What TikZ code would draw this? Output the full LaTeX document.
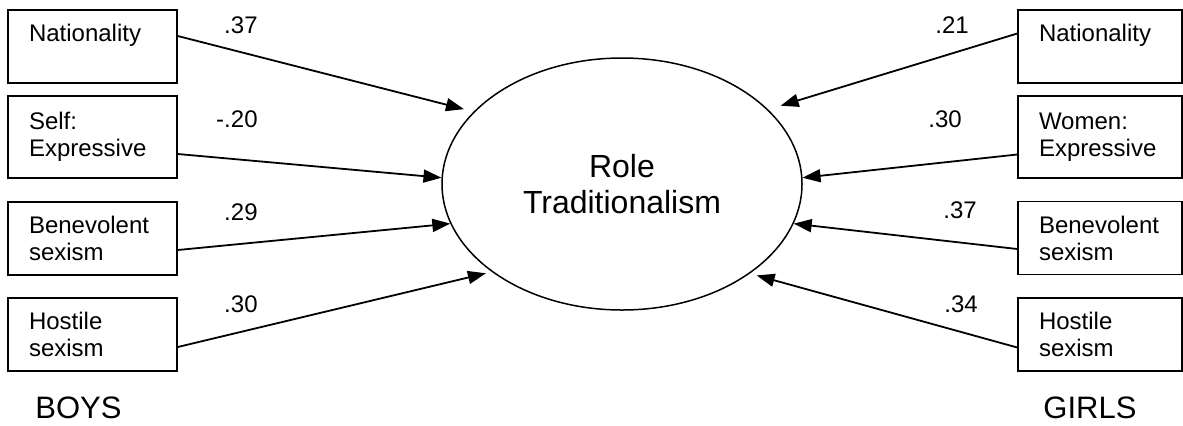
\documentclass[tikz,border=0pt]{standalone}
\usepackage{fontspec}
\setmainfont{Liberation Sans}
\usetikzlibrary{shapes.geometric}
\usetikzlibrary{arrows.meta}

\begin{document}
\begin{tikzpicture}[x=0.5pt,y=-0.5pt,line cap=round,>={Triangle[length=9pt,width=6.5pt]},
        var/.style={draw,line width=0.75pt,minimum width=84.5pt,minimum height=36.5pt,text width=63.5pt,inner xsep=10.5pt,align=left,font=\fontsize{12}{13.5}\selectfont},
        effect/.style={->,line width=0.9pt},
        coef/.style={inner sep=0pt,font=\fontsize{12}{13.5}\selectfont},
        group/.style={inner sep=0pt,anchor=base west,font=\fontsize{15.5}{18}\selectfont}]
        \useasboundingbox (0,0) rectangle (1183,425);
        % latent variable
        \node[draw,ellipse,line width=0.75pt,minimum width=180pt,minimum height=126pt,align=center,font=\fontsize{16}{18}\selectfont] (role) at (622,184) {Role\\Traditionalism};
        % boys
        \node[var] (bnat) at (92.5,46.5) {Nationality\\ \mbox{}};
        \node[var,minimum height=41pt] (bself) at (92.5,137) {Self:\\Expressive};
        \node[var] (bben) at (92.5,238.5) {Benevolent\\sexism};
        \node[var] (bhos) at (92.5,334.5) {Hostile\\sexism};
        \node[group] (boys) at (35,418) {BOYS};
        % girls
        \node[var,minimum width=82pt,text width=61pt] (gnat) at (1100,46.5) {Nationality\\ \mbox{}};
        \node[var,minimum width=82pt,text width=61pt,minimum height=41pt] (gwom) at (1100,137) {Women:\\Expressive};
        \node[var,minimum width=82pt,text width=61pt] (gben) at (1100,238) {Benevolent\\sexism};
        \node[var,minimum width=82pt,text width=61pt] (ghos) at (1100,334.5) {Hostile\\sexism};
        \node[group] (girls) at (1043,418) {GIRLS};
        % paths into the ellipse
        \draw[effect,shorten >=5pt] ([yshift=5.25pt]bnat.east) -- (role.154);
        \draw[effect] ([yshift=-8.5pt]bself.east) -- (role.178);
        \draw[effect] ([yshift=-5.75pt]bben.east) -- (role.193);
        \draw[effect,shorten >=3pt] ([yshift=-6.25pt]bhos.east) -- (role.214);
        \draw[effect,shorten >=6.5pt] ([yshift=6.5pt]gnat.west) -- (role.27);
        \draw[effect] ([yshift=-8.75pt]gwom.west) -- (role.2);
        \draw[effect] ([yshift=-5.5pt]gben.west) -- (role.-13);
        \draw[effect,shorten >=3.5pt] ([yshift=-6.5pt]ghos.west) -- (role.-35);
        % coefficients
        \node[coef,anchor=base east] (cnat) at (258,33) {.37};
        \node[coef,anchor=base east] (cself) at (258,127) {-.20};
        \node[coef,anchor=base east] (cben) at (258,220) {.29};
        \node[coef,anchor=base east] (chos) at (258,312) {.30};
        \node[coef,anchor=base] (dnat) at (952,33) {.21};
        \node[coef,anchor=base] (dwom) at (945,127) {.30};
        \node[coef,anchor=base] (dben) at (960,218) {.37};
        \node[coef,anchor=base] (dhos) at (961,312) {.34};
\end{tikzpicture}
\end{document}
